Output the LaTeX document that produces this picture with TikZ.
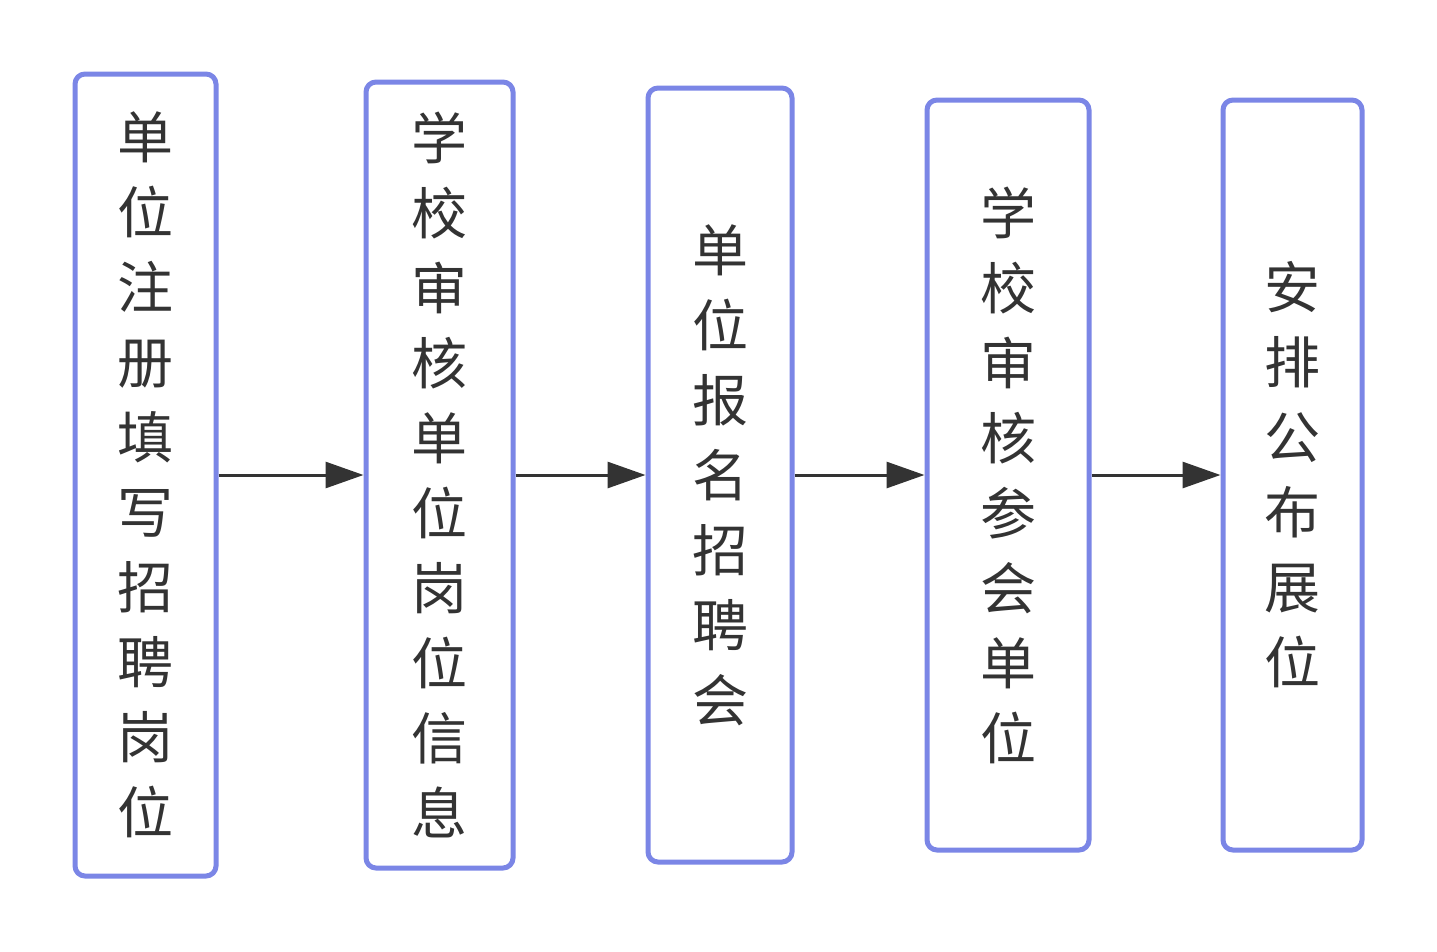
\documentclass[tikz,border=0pt]{standalone}
\usepackage{fontspec}
\newfontfamily\cjk{Noto Sans CJK SC}
\usetikzlibrary{arrows.meta}
\definecolor{boxblue}{HTML}{7B86E6}
\definecolor{inkgray}{HTML}{333333}
\tikzset{
	stepnode/.style={rectangle, rounded corners=10pt, draw=boxblue, line width=5pt, align=center, text=inkgray, font=\cjk\fontsize{56pt}{75pt}\selectfont},
	flow/.style={draw=inkgray, line width=3pt, -{Triangle[length=38pt,width=26pt]}}
}
\begin{document}
\begin{tikzpicture}[x=1pt,y=-1pt]
	\useasboundingbox (0,0) rectangle (1437,951);
	\node[stepnode, minimum width=141pt, minimum height=802pt] (s1) at (145.5,475) {单\\位\\注\\册\\填\\写\\招\\聘\\岗\\位};
	\node[stepnode, minimum width=147pt, minimum height=786pt] (s2) at (439.5,475) {学\\校\\审\\核\\单\\位\\岗\\位\\信\\息};
	\node[stepnode, minimum width=144pt, minimum height=774pt] (s3) at (720,475) {单\\位\\报\\名\\招\\聘\\会};
	\node[stepnode, minimum width=162pt, minimum height=750pt] (s4) at (1008,475) {学\\校\\审\\核\\参\\会\\单\\位};
	\node[stepnode, minimum width=139pt, minimum height=750pt] (s5) at (1292.5,475) {安\\排\\公\\布\\展\\位};

	\draw[flow] (s1) -- (s2);
	\draw[flow] (s2) -- (s3);
	\draw[flow] (s3) -- (s4);
	\draw[flow] (s4) -- (s5);
\end{tikzpicture}
\end{document}
